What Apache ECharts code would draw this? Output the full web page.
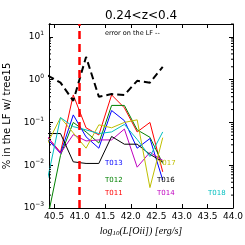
<!DOCTYPE html>
<html><head><meta charset="utf-8">
<script src="https://cdn.jsdelivr.net/npm/echarts@6/dist/echarts.min.js"></script>
<style>html,body{margin:0;padding:0;background:#fff}#c{width:245px;height:245px}</style>
</head><body><div id="c"></div>
<script>
// bin centres of log10(L[OII])
const bins = [40.375, 40.625, 40.875, 41.125, 41.375, 41.625, 41.875, 42.125, 42.375, 42.625];
const t011 = [0.045, 0.02, 0.44, 0.075, 0.051, 0.44, 0.22, 0.06, 0.1, 0.007];
const t012 = [0.0006, 0.017, 0.1, 0.06, 0.033, 0.25, 0.25, 0.067, 0.045, 0.011];
const t013 = [0.04, 0.019, 0.15, 0.046, 0.025, 0.19, 0.11, 0.025, 0.042, 0.0045];
const t014 = [0.046, 0.019, 0.052, 0.037, 0.039, 0.039, 0.07, 0.009, 0.02, 0.013];
const t016 = [0.055, 0.055, 0.012, 0.011, 0.011, 0.047, 0.031, 0.031, 0.018, 0.012];
const t017 = [0.033, 0.13, 0.057, 0.025, 0.088, 0.075, 0.1, 0.115, 0.003, 0.044];
const t018 = [0.005, 0.13, 0.08, 0.067, 0.055, 0.06, 0.09, 0.04, 0.016, 0.06];
const lfError = [1.25, 0.85, 0.32, 3.4, 0.40, 0.46, 0.44, 0.94, 0.85, 2.0];
const lfLimit = 41.0;
const xTicks = [40.5, 41.0, 41.5, 42.0, 42.5, 43.0, 43.5, 44.0];
const yTicks = [0.001, 0.01, 0.1, 1, 10];
const xMin = 40.4, xMax = 44.0, yMin = 0.001, yMax = 20;
const titleText = '0.24<z<0.4';
const errText = 'error on the LF --';
const yName = '% in the LF w/ tree15';

const seriesDefs = [
  {name: 'T011', color: '#ff0000', values: t011},
  {name: 'T012', color: '#008000', values: t012},
  {name: 'T013', color: '#0000ff', values: t013},
  {name: 'T014', color: '#bf00bf', values: t014},
  {name: 'T016', color: '#000000', values: t016},
  {name: 'T017', color: '#bfbf00', values: t017},
  {name: 'T018', color: '#00bfbf', values: t018}
];
const labelPos = {
  T013: [105, 163], T012: [105, 180], T011: [105, 193],
  T017: [158, 163], T016: [157, 180], T014: [157, 193], T018: [208, 193]
};

// minor log ticks
const yMinor = [];
for (let e = -3; e <= 1; e++) for (let m = 2; m <= 9; m++) { const v = m * Math.pow(10, e); if (v <= yMax) yMinor.push(v); }

const FONT = 'DejaVu Sans';
const chart = echarts.init(document.getElementById('c'), null, {renderer: 'canvas'});

function yFmt(v) {
  const e = Math.round(Math.log10(v));
  return '{b|10}{s|' + String(e).replace('-', '\u2212') + '}';
}

const axisLineStyle = {color: '#000', width: 1};
const series = seriesDefs.map(d => ({
  name: d.name, type: 'line', symbol: 'none', z: 2,
  lineStyle: {color: d.color, width: 1},
  data: bins.map((x, i) => [x, d.values[i]])
}));
series.push({
  name: 'lferr', type: 'line', symbol: 'none', z: 3,
  lineStyle: {color: '#000', width: 2, type: [7, 4]},
  data: bins.map((x, i) => [x, lfError[i]]),
  markLine: {
    symbol: 'none', silent: true, label: {show: false},
    lineStyle: {color: '#ff0000', type: [8, 5], width: 2.5},
    data: [{xAxis: lfLimit}]
  }
});
series.push({
  type: 'custom', z: 4, silent: true,
  data: yMinor.map(v => [xMin, v]),
  renderItem: function (params, api) {
    const cs = params.coordSys;
    const y = api.coord([xMin, api.value(1)])[1];
    return {type: 'group', children: [
      {type: 'line', shape: {x1: cs.x, y1: y, x2: cs.x + 2, y2: y}, style: {stroke: '#000', lineWidth: 1}},
      {type: 'line', shape: {x1: cs.x + cs.width - 2, y1: y, x2: cs.x + cs.width, y2: y}, style: {stroke: '#000', lineWidth: 1}}
    ]};
  }
});

const graphics = [
  {type: 'text', x: 141, y: 16, style: {text: titleText, fontFamily: FONT, fontSize: 12, fill: '#000', align: 'center', verticalAlign: 'middle'}},
  {type: 'text', x: 105, y: 33, style: {text: errText, fontFamily: FONT, fontSize: 6.5, fill: '#000', align: 'left', verticalAlign: 'middle'}}
];
seriesDefs.forEach(d => {
  const p = labelPos[d.name];
  graphics.push({type: 'text', x: p[0], y: p[1], z: 10, style: {text: d.name, fontFamily: FONT, fontSize: 7, fill: d.color, align: 'left', verticalAlign: 'middle'}});
});

chart.setOption({
  animation: false,
  grid: {left: 49, right: 12, top: 24, bottom: 37, containLabel: false, outerBoundsMode: 'none'},
  xAxis: [{
    type: 'value', min: xMin, max: xMax, position: 'bottom',
    axisLine: {onZero: false, lineStyle: axisLineStyle},
    axisTick: {inside: true, length: 4, customValues: xTicks, lineStyle: axisLineStyle},
    axisLabel: {customValues: xTicks, formatter: v => v.toFixed(1), color: '#000', fontSize: 9, fontFamily: FONT, margin: 4},
    splitLine: {show: false},
    name: '{i|log}{sub|10}{i|(L[Oii]) [erg/s]}', nameLocation: 'middle', nameGap: 13,
    nameTextStyle: {rich: {
      i: {fontFamily: 'Liberation Serif', fontStyle: 'italic', fontSize: 10, color: '#000'},
      sub: {fontFamily: 'Liberation Serif', fontStyle: 'italic', fontSize: 7, color: '#000', padding: [5, 0, 0, 0]}
    }}
  }, {
    type: 'value', min: xMin, max: xMax, position: 'top',
    axisLine: {onZero: false, lineStyle: axisLineStyle},
    axisTick: {inside: true, length: 4, customValues: xTicks, lineStyle: axisLineStyle},
    axisLabel: {show: false}, splitLine: {show: false}
  }],
  yAxis: [{
    type: 'log', logBase: 10, min: yMin, max: yMax, position: 'left',
    axisLine: {onZero: false, lineStyle: axisLineStyle},
    axisTick: {inside: true, length: 4, customValues: yTicks, lineStyle: axisLineStyle},
    axisLabel: {customValues: yTicks, formatter: yFmt, margin: 5, rich: {
      b: {fontFamily: FONT, fontSize: 9, color: '#000'},
      s: {fontFamily: FONT, fontSize: 6, color: '#000', padding: [0, 0, 7, 0]}
    }},
    splitLine: {show: false},
    name: yName, nameLocation: 'middle', nameGap: 28,
    nameTextStyle: {fontFamily: FONT, fontSize: 10, color: '#000'}
  }, {
    type: 'log', logBase: 10, min: yMin, max: yMax, position: 'right',
    axisLine: {onZero: false, lineStyle: axisLineStyle},
    axisTick: {inside: true, length: 4, customValues: yTicks, lineStyle: axisLineStyle},
    axisLabel: {show: false}, splitLine: {show: false}
  }],
  series: series,
  graphic: graphics
});
</script></body></html>
